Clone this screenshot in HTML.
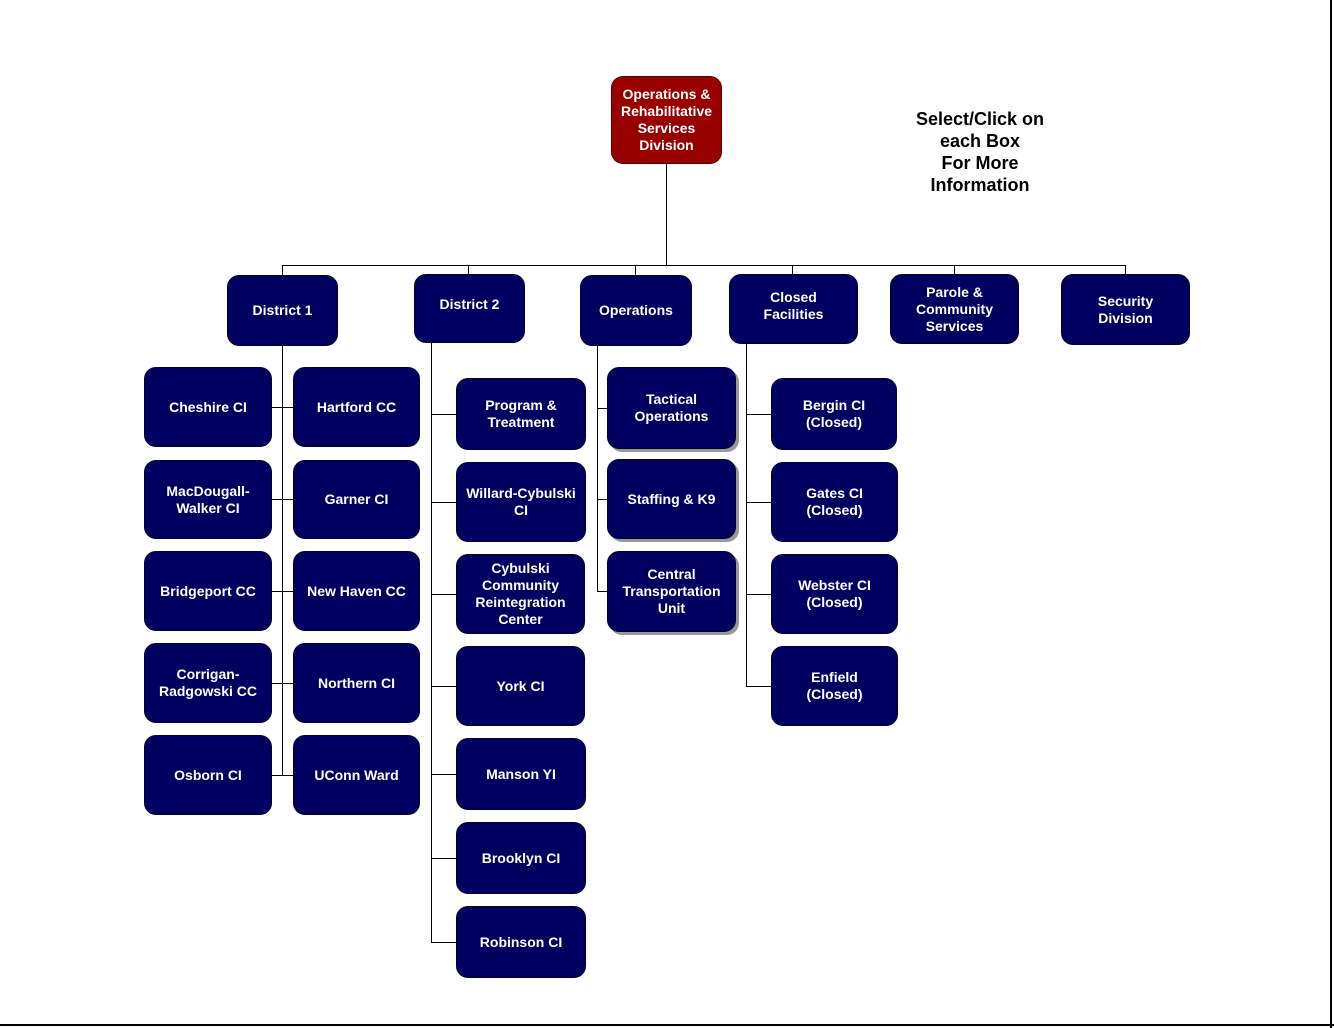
<!DOCTYPE html>
<html><head><style>
body{margin:0;width:1334px;height:1028px;position:relative;background:#fff;overflow:hidden;font-family:"Liberation Sans",Arial,sans-serif}
.b{position:absolute;background:#000060;border-radius:12px;color:#fff;font-weight:bold;font-size:14px;line-height:17px;display:flex;align-items:center;justify-content:center;text-align:center;box-sizing:border-box;border:1px solid #000030}
.s{box-shadow:3px 3px 0 #999}
.r{background:#990000;border-color:#500}
.h{position:absolute;background:#000;height:1px}
.v{position:absolute;background:#000;width:1px}
.t{position:absolute;left:880px;top:108px;width:200px;text-align:center;font-weight:bold;font-size:18px;line-height:22px}
.fr{position:absolute;right:2px;top:0;width:2px;height:1028px;background:#000}
.fb{position:absolute;left:0;bottom:2px;width:1334px;height:2px;background:#000}
</style></head><body>
<div class="fr"></div><div class="fb"></div>
<div class="v" style="left:666px;top:164px;height:101px"></div>
<div class="h" style="left:282px;top:265px;width:844px"></div>
<div class="v" style="left:282px;top:265px;height:10px"></div>
<div class="v" style="left:468px;top:265px;height:9px"></div>
<div class="v" style="left:635px;top:265px;height:10px"></div>
<div class="v" style="left:792px;top:265px;height:9px"></div>
<div class="v" style="left:954px;top:265px;height:9px"></div>
<div class="v" style="left:1125px;top:265px;height:9px"></div>
<!-- spines -->
<div class="v" style="left:282px;top:346px;height:430px"></div>
<div class="v" style="left:431px;top:343px;height:599px"></div>
<div class="v" style="left:597px;top:346px;height:245px"></div>
<div class="v" style="left:746px;top:344px;height:343px"></div>
<!-- d1 stubs -->
<div class="h" style="left:272px;top:407px;width:21px"></div>
<div class="h" style="left:272px;top:499px;width:21px"></div>
<div class="h" style="left:272px;top:591px;width:21px"></div>
<div class="h" style="left:272px;top:683px;width:21px"></div>
<div class="h" style="left:272px;top:775px;width:21px"></div>
<!-- d2 stubs -->
<div class="h" style="left:431px;top:414px;width:25px"></div>
<div class="h" style="left:431px;top:502px;width:25px"></div>
<div class="h" style="left:431px;top:594px;width:25px"></div>
<div class="h" style="left:431px;top:686px;width:25px"></div>
<div class="h" style="left:431px;top:774px;width:25px"></div>
<div class="h" style="left:431px;top:858px;width:25px"></div>
<div class="h" style="left:431px;top:942px;width:25px"></div>
<!-- ops stubs -->
<div class="h" style="left:597px;top:408px;width:10px"></div>
<div class="h" style="left:597px;top:499px;width:10px"></div>
<div class="h" style="left:597px;top:591px;width:10px"></div>
<!-- closed stubs -->
<div class="h" style="left:746px;top:414px;width:25px"></div>
<div class="h" style="left:746px;top:502px;width:25px"></div>
<div class="h" style="left:746px;top:594px;width:25px"></div>
<div class="h" style="left:746px;top:686px;width:25px"></div>

<div class="b r" style="left:611px;top:76px;width:111px;height:88px">Operations &amp;<br>Rehabilitative<br>Services<br>Division</div>
<div class="t">Select/Click on<br>each Box<br>For More<br>Information</div>

<div class="b" style="left:227px;top:275px;width:111px;height:71px">District 1</div>
<div class="b" style="left:414px;top:274px;width:111px;height:69px;padding-bottom:8px">District 2</div>
<div class="b" style="left:580px;top:275px;width:112px;height:71px">Operations</div>
<div class="b" style="left:729px;top:274px;width:129px;height:70px;padding-bottom:6px">Closed<br>Facilities</div>
<div class="b" style="left:890px;top:274px;width:129px;height:70px">Parole &amp;<br>Community<br>Services</div>
<div class="b" style="left:1061px;top:274px;width:129px;height:71px">Security<br>Division</div>

<div class="b" style="left:144px;top:367px;width:128px;height:80px">Cheshire CI</div>
<div class="b" style="left:144px;top:460px;width:128px;height:79px">MacDougall-<br>Walker CI</div>
<div class="b" style="left:144px;top:551px;width:128px;height:80px">Bridgeport CC</div>
<div class="b" style="left:144px;top:643px;width:128px;height:80px">Corrigan-<br>Radgowski CC</div>
<div class="b" style="left:144px;top:735px;width:128px;height:80px">Osborn CI</div>

<div class="b" style="left:293px;top:367px;width:127px;height:80px">Hartford CC</div>
<div class="b" style="left:293px;top:460px;width:127px;height:79px">Garner CI</div>
<div class="b" style="left:293px;top:551px;width:127px;height:80px">New Haven CC</div>
<div class="b" style="left:293px;top:643px;width:127px;height:80px">Northern CI</div>
<div class="b" style="left:293px;top:735px;width:127px;height:80px">UConn Ward</div>

<div class="b" style="left:456px;top:378px;width:130px;height:72px">Program &amp;<br>Treatment</div>
<div class="b" style="left:456px;top:462px;width:130px;height:80px">Willard-Cybulski<br>CI</div>
<div class="b" style="left:456px;top:554px;width:129px;height:80px">Cybulski<br>Community<br>Reintegration<br>Center</div>
<div class="b" style="left:456px;top:646px;width:129px;height:80px">York CI</div>
<div class="b" style="left:456px;top:738px;width:130px;height:72px">Manson YI</div>
<div class="b" style="left:456px;top:822px;width:130px;height:72px">Brooklyn CI</div>
<div class="b" style="left:456px;top:906px;width:130px;height:72px">Robinson CI</div>

<div class="b s" style="left:607px;top:367px;width:129px;height:82px">Tactical<br>Operations</div>
<div class="b s" style="left:607px;top:459px;width:129px;height:80px">Staffing &amp; K9</div>
<div class="b s" style="left:607px;top:551px;width:129px;height:81px">Central<br>Transportation<br>Unit</div>

<div class="b" style="left:771px;top:378px;width:126px;height:72px">Bergin CI<br>(Closed)</div>
<div class="b" style="left:771px;top:462px;width:127px;height:80px">Gates CI<br>(Closed)</div>
<div class="b" style="left:771px;top:554px;width:127px;height:80px">Webster CI<br>(Closed)</div>
<div class="b" style="left:771px;top:646px;width:127px;height:80px">Enfield<br>(Closed)</div>
</body></html>
